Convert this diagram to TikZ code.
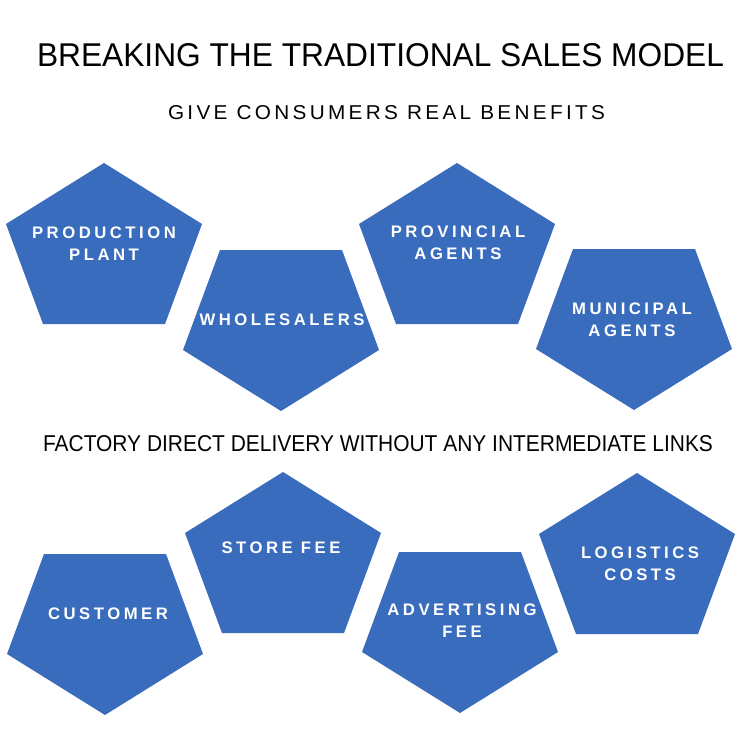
\documentclass[tikz,border=0pt]{standalone}
\usepackage{fontspec}
\usepackage{graphicx}
\setmainfont{Liberation Sans}
\newfontfamily\tagfont[LetterSpace=21]{Liberation Sans Bold}
\newfontfamily\subfont[LetterSpace=16]{Liberation Sans}
\definecolor{pentblue}{RGB}{58,108,190}
\newcommand{\fitbox}[3]{\resizebox{#1}{#2}{#3}}

\begin{document}
\begin{tikzpicture}[
		x=0.02cm, y=-0.02cm,
		uppent/.pic={\fill[pentblue] (0,0) -- (98,61) -- (61,161) -- (-61,161) -- (-98,61) -- cycle;},
		downpent/.pic={\fill[pentblue] (-61,0) -- (61,0) -- (98,100) -- (0,161) -- (-98,100) -- cycle;},
		tag/.style={align=center, text=white, inner sep=0pt, font=\tagfont\fontsize{9.5}{12.5}\selectfont},
		head/.style={inner sep=0pt, text=black},
	]
	\useasboundingbox[fill=white] (0,0) rectangle (750,733);

	\foreach \px/\py in {104/163, 457/163, 283/472, 637/473}
		\pic at (\px,\py) {uppent};
	\foreach \px/\py in {281/250, 634/249, 105/554, 460/552}
		\pic at (\px,\py) {downpent};

	\node[head] (title) at (380.5,55.5) {\fitbox{13.74cm}{0.46cm}{BREAKING THE TRADITIONAL SALES MODEL}};
	\node[head] (benefits) at (386.5,113) {\fitbox{8.74cm}{0.28cm}{\subfont GIVE CONSUMERS REAL BENEFITS}};
	\node[head] (direct) at (378,444) {\fitbox{13.4cm}{0.32cm}{FACTORY DIRECT DELIVERY WITHOUT ANY INTERMEDIATE LINKS}};

	\node[tag] (plant) at (104,244) {PRODUCTION\\PLANT};
	\node[tag] (wholesale) at (282,319.5) {WHOLESALERS};
	\node[tag] (province) at (458,242.5) {PROVINCIAL\\AGENTS};
	\node[tag] (city) at (632,320) {MUNICIPAL\\AGENTS};

	\node[tag] (customer) at (108,613.5) {CUSTOMER};
	\node[tag] (store) at (281,547.5) {STORE FEE};
	\node[tag] (advert) at (462,620.5) {ADVERTISING\\FEE};
	\node[tag] (logistics) at (640,563.5) {LOGISTICS\\COSTS};
\end{tikzpicture}
\end{document}
